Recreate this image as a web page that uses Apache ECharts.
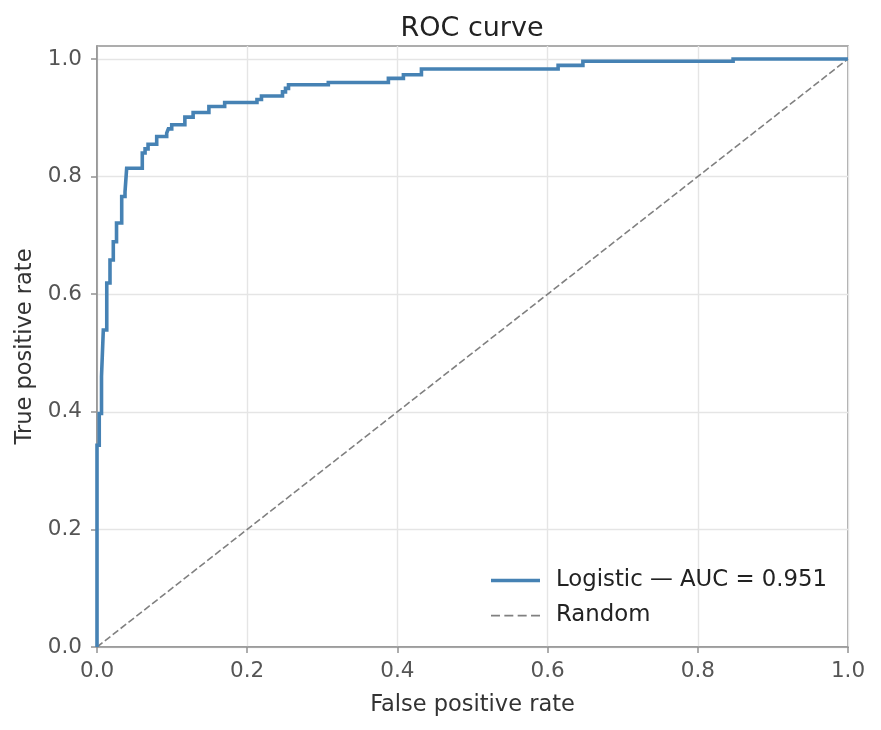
<!DOCTYPE html>
<html><head><meta charset="utf-8">
<script src="https://cdn.jsdelivr.net/npm/echarts@6/dist/echarts.min.js"></script>
<style>html,body{margin:0;padding:0;background:#fff}#c{width:881px;height:730px}</style>
</head><body><div id="c"></div>
<script>
// ROC curve corner points (false positive rate, true positive rate)
var fpr = [0,0,0.003,0.003,0.006,0.006,0.0084,0.0084,0.013,0.013,0.0173,0.0173,0.0217,0.0217,0.026,0.026,0.0329,0.0329,0.0373,0.0373,0.0395,0.0395,0.0603,0.0603,0.064,0.064,0.068,0.068,0.0795,0.0795,0.0928,0.0928,0.095,0.095,0.0995,0.0995,0.117,0.117,0.128,0.128,0.149,0.149,0.170,0.170,0.213,0.213,0.219,0.219,0.247,0.247,0.251,0.251,0.255,0.255,0.308,0.308,0.388,0.388,0.408,0.408,0.432,0.432,0.614,0.614,0.647,0.647,0.847,0.847,1.0];
var tpr = [0,0.343,0.343,0.397,0.397,0.46,0.46,0.539,0.539,0.619,0.619,0.658,0.658,0.689,0.689,0.721,0.721,0.766,0.766,0.774,0.774,0.814,0.814,0.840,0.840,0.847,0.847,0.855,0.855,0.868,0.868,0.874,0.874,0.881,0.881,0.888,0.888,0.901,0.901,0.909,0.909,0.919,0.919,0.926,0.926,0.931,0.931,0.937,0.937,0.944,0.944,0.950,0.950,0.956,0.956,0.960,0.960,0.967,0.967,0.973,0.973,0.983,0.983,0.989,0.989,0.996,0.996,1.0,1.0];
var randomX = [0,1];
var randomY = [0,1];
var tickValues = [0,0.2,0.4,0.6,0.8,1.0];
var aucLabel = 'Logistic \u2014 AUC = 0.951';
var randomLabel = 'Random';

var rocData = fpr.map(function(x,i){return [x,tpr[i]];});
var diagData = randomX.map(function(x,i){return [x,randomY[i]];});
var font = 'DejaVu Sans';
var spine = '#939393';
var chart = echarts.init(document.getElementById('c'), null, {renderer:'canvas'});
function axisCommon(){
  return {
    type:'value', min:0,
    axisLine:{show:true, lineStyle:{color:spine, width:1.6}},
    axisTick:{show:true, inside:false, length:6, lineStyle:{color:spine, width:1.5}, customValues: tickValues},
    axisLabel:{color:'#555', fontSize:21.5, fontFamily:font, formatter:function(v){return v.toFixed(1);}, customValues: tickValues, margin:13},
    splitLine:{show:true, lineStyle:{color:'#e5e5e5', width:1.4}},
    nameLocation:'middle',
    nameTextStyle:{color:'#333', fontSize:22.5, fontFamily:font}
  };
}
var xa = axisCommon(); xa.max = 1; xa.name='False positive rate'; xa.nameGap = 47; xa.interval = 0.2;
var ya = axisCommon(); ya.max = 1.022; ya.name='True positive rate'; ya.nameGap = 60; ya.interval = 0.2;
ya.axisLabel.margin = 15;

// dashed legend icon path
var dashPath = 'path://';
for (var k = 0; k < 4; k++) { var s = k * 12.2; dashPath += 'M' + s + ',0 L' + (s + 8.2) + ',0 L' + (s + 8.2) + ',1.6 L' + s + ',1.6 Z '; }

chart.setOption({
  animation:false,
  backgroundColor:'#fff',
  title:{text:'ROC curve', left:472, top:15, padding:0, textAlign:'center', textStyle:{fontFamily:font, fontSize:27, fontWeight:'normal', color:'#222'}},
  grid:{left:97, right:33, top:46, bottom:83, show:true, borderColor:spine, borderWidth:1.6, backgroundColor:'transparent'},
  xAxis:xa,
  yAxis:ya,
  legend:{
    orient:'vertical', left:491, top:569, padding:0, itemWidth:49, itemHeight:14, itemGap:12,
    textStyle:{fontFamily:font, fontSize:22.8, color:'#222', padding:[0,0,0,11]},
    data:[{name:aucLabel, icon:'path://M0,0 L49,0 L49,3.4 L0,3.4 Z', itemStyle:{color:'#4682b4'}},
          {name:randomLabel, icon:dashPath, itemStyle:{color:'#808080'}}]
  },
  series:[
    {name:aucLabel, type:'line', data:rocData, showSymbol:false, symbol:'none', lineStyle:{color:'#4682b4', width:3.6, join:'miter'}, itemStyle:{color:'#4682b4'}, z:3},
    {name:randomLabel, type:'line', data:diagData, showSymbol:false, symbol:'none', lineStyle:{color:'#808080', width:1.6, type:[7,3]}, itemStyle:{color:'#808080'}, z:2}
  ]
});
</script></body></html>
